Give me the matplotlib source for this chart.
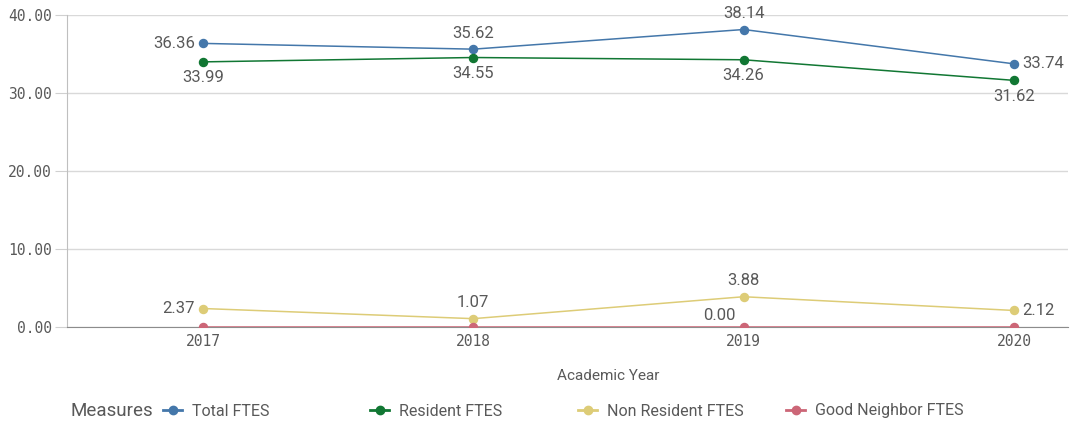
import matplotlib.pyplot as plt
from matplotlib.lines import Line2D

years = ['2017', '2018', '2019', '2020']
total_ftes = [36.36, 35.62, 38.14, 33.74]
resident_ftes = [33.99, 34.55, 34.26, 31.62]
non_resident_ftes = [2.37, 1.07, 3.88, 2.12]
good_neighbor_ftes = [0.0, 0.0, 0.0, 0.0]
y_ticks = [0, 10, 20, 30, 40]

series = [
    ('Total FTES', total_ftes, '#4477aa'),
    ('Resident FTES', resident_ftes, '#117733'),
    ('Non Resident FTES', non_resident_ftes, '#ddcc77'),
    ('Good Neighbor FTES', good_neighbor_ftes, '#cc6677'),
]

# where each value label sits: (dx, dy) in points, ha, va ; None = no label
label_pos = {
    'Total FTES': [(-6, 0, 'right', 'center'), (0, 6, 'center', 'bottom'),
                   (0, 6, 'center', 'bottom'), (6, 0, 'left', 'center')],
    'Resident FTES': [(0, -6, 'center', 'top'), (0, -6, 'center', 'top'),
                      (0, -6, 'center', 'top'), (0, -6, 'center', 'top')],
    'Non Resident FTES': [(-6, 0, 'right', 'center'), (0, 6, 'center', 'bottom'),
                          (0, 6, 'center', 'bottom'), (6, 0, 'left', 'center')],
    'Good Neighbor FTES': [None, None, (-6, 3, 'right', 'bottom'), None],
}

mono = 'DejaVu Sans Mono'
sans = 'Roboto'
grey = '#595959'

fig = plt.figure(figsize=(10.71, 4.25), dpi=100)
ax = fig.add_axes([67 / 1071, 1 - 327 / 425, (1068 - 67) / 1071, (327 - 15) / 425])

x = list(range(len(years)))
for name, vals, col in series:
    ax.plot(x, vals, color=col, lw=1.1, marker='o', ms=5.8, zorder=3)
    for i, v in enumerate(vals):
        p = label_pos[name][i]
        if p is None:
            continue
        dx, dy, ha, va = p
        ax.annotate(f'{v:.2f}', (i, v), xytext=(dx, dy), textcoords='offset points',
                    ha=ha, va=va, fontsize=12, color=grey, family=sans, zorder=4)

ax.set_ylim(0, 40)
ax.set_xlim(-0.503, 3.2)
ax.set_yticks(y_ticks)
ax.set_yticklabels([f'{t:.2f}' for t in y_ticks], family=mono, fontsize=10.5, color=grey)
ax.set_xticks(x)
ax.set_xticklabels(years, family=mono, fontsize=10.5, color=grey)
ax.tick_params(axis='y', length=9, color='#d0d0d0', pad=2)
ax.tick_params(axis='x', length=0, pad=5)
ax.grid(axis='y', color='#d9d9d9', lw=1)
ax.set_axisbelow(True)
for s in ['top', 'right']:
    ax.spines[s].set_visible(False)
ax.spines['left'].set_color('#bfbfbf')
ax.spines['bottom'].set_color('#8c8c8c')
ax.set_xlabel('Academic Year', family=sans, fontsize=11, color=grey)
ax.xaxis.set_label_coords((608 - 67) / 1001, -(376 - 327) / 312)
ax.xaxis.label.set_va('center')

fig.text(70 / 1071, 1 - 411 / 425, 'Measures', family=sans, fontsize=13.5, color=grey,
         ha='left', va='center')
leg_x = [163, 370, 578, 786]
for (name, _, col), lx in zip(series, leg_x):
    leg = fig.legend([Line2D([], [], color=col, lw=2, marker='o', ms=6)], [name],
                     loc='center left', bbox_to_anchor=(lx / 1071, 1 - 411 / 425),
                     frameon=False, handlelength=1.2, handletextpad=0.6,
                     borderaxespad=0, borderpad=0,
                     prop={'family': sans, 'size': 11.5})
    for t in leg.get_texts():
        t.set_color(grey)

fig.savefig('out.png', dpi=100)
